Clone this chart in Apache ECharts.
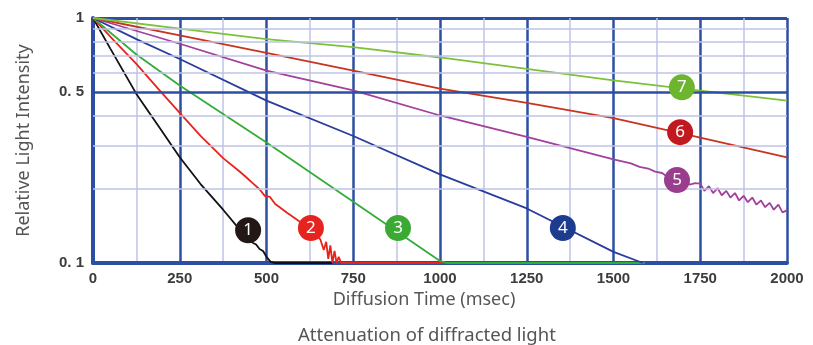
<!DOCTYPE html>
<html>
<head>
<meta charset="utf-8">
<script src="https://cdn.jsdelivr.net/npm/echarts@6/dist/echarts.min.js"></script>
<style>
    html, body { margin: 0; padding: 0; background: #fff; }
    #chartDiv { width: 813px; height: 345px; }
</style>
</head>
<body>
<div id="chartDiv"></div>
<script>
// data, time in msec, relative intensity
let t1 = [0, 50, 125, 190, 250, 310, 375, 430, 460, 470, 480, 490, 500, 512, 525, 690];
let v1 = [1, 0.75, 0.49, 0.36, 0.27, 0.21, 0.165, 0.133, 0.121, 0.119, 0.114, 0.112, 0.106, 0.101, 0.1, 0.1];

let t2 = [0, 60, 125, 190, 250, 310, 375, 420, 440, 460, 480, 495, 510, 525, 540, 560, 580, 600, 620, 640, 655, 665, 672, 678, 684, 690, 696, 702, 708, 715, 1023];
let v2 = [1, 0.81, 0.65, 0.51, 0.41, 0.33, 0.268, 0.238, 0.225, 0.212, 0.2, 0.188, 0.186, 0.174, 0.168, 0.16, 0.153, 0.146, 0.14, 0.13, 0.125, 0.113, 0.122, 0.104, 0.118, 0.1, 0.112, 0.1, 0.106, 0.1, 0.1];

let t3 = [0, 125, 250, 500, 750, 1000, 1020, 1590];
let v3 = [1, 0.71, 0.53, 0.31, 0.178, 0.102, 0.1, 0.1];

let t4 = [0, 125, 250, 500, 750, 1000, 1250, 1500, 1585];
let v4 = [1, 0.82, 0.68, 0.46, 0.33, 0.23, 0.167, 0.111, 0.1];

let t5 = [0, 250, 500, 750, 1000, 1250, 1500, 1550, 1575, 1600, 1620, 1640, 1660, 1700, 1720, 1735,
    1750, 1762, 1775, 1787, 1800, 1812, 1825, 1837, 1850, 1862, 1875, 1887, 1900, 1912, 1925, 1937, 1950, 1962, 1975, 1987, 2000];
let v5 = [1, 0.785, 0.61, 0.507, 0.40, 0.327, 0.265, 0.255, 0.247, 0.243, 0.236, 0.233, 0.222, 0.218, 0.209, 0.212,
    0.211, 0.197, 0.206, 0.193, 0.202, 0.189, 0.197, 0.185, 0.193, 0.180, 0.188, 0.177, 0.185, 0.173, 0.180, 0.169, 0.176, 0.165, 0.173, 0.161, 0.164];

let t6 = [0, 250, 500, 750, 1000, 1250, 1500, 1750, 2000];
let v6 = [1, 0.85, 0.72, 0.61, 0.515, 0.45, 0.39, 0.325, 0.27];

let t7 = [0, 250, 500, 750, 1000, 1250, 1500, 1750, 2000];
let v7 = [1, 0.905, 0.82, 0.76, 0.69, 0.62, 0.556, 0.505, 0.46];

let lineColors = ["#111111", "#e8231c", "#32ad3a", "#2a3c9c", "#a2409c", "#c8341f", "#7cc23a"];

// numbered badges
let badgeText = ["1", "2", "3", "4", "5", "6", "7"];
let badgeX = [447, 628, 879, 1354, 1683, 1692, 1697];
let badgeY = [0.136, 0.139, 0.139, 0.139, 0.218, 0.342, 0.521];
let badgeColors = ["#231815", "#e52420", "#3aaa35", "#1d3c8f", "#993d8c", "#c1191f", "#6db52f"];

let minorLevels = [0.2, 0.3, 0.4, 0.6, 0.7, 0.8, 0.9];
let majorLevel = 0.5;

let chart = echarts.init(document.getElementById("chartDiv"));

let majorBlue = "#2c4fa3";
let minorBlue = "#bfc3e6";
let tickFont = {
    color: "#3c3c3c",
    fontSize: 15,
    fontWeight: "bold",
    fontFamily: "Liberation Sans",
};
let nameFont = {
    color: "#555",
    fontSize: 18,
    fontWeight: "normal",
    fontFamily: "Noto Sans",
};

let times = [t1, t2, t3, t4, t5, t6, t7];
let values = [v1, v2, v3, v4, v5, v6, v7];

let series = [];

// light horizontal grid + 0.5 line
series.push({
    type: "line",
    z: -1,
    silent: true,
    data: [[0, 1]],
    showSymbol: false,
    lineStyle: { width: 0 },
    markLine: {
        silent: true,
        symbol: "none",
        animation: false,
        data: minorLevels.map((v) => ({
            yAxis: v,
            lineStyle: { color: minorBlue, width: 1.5, type: "solid" },
            label: { show: false },
        })).concat([{
            yAxis: majorLevel,
            lineStyle: { color: majorBlue, width: 2.5, type: "solid" },
            label: Object.assign({
                show: true,
                position: "start",
                distance: 9,
                formatter: "0. 5",
            }, tickFont),
        }]),
    },
});

for (let i = 0; i < times.length; i++) {
    series.push({
        type: "line",
        z: 3,
        showSymbol: false,
        silent: true,
        data: times[i].map((t, j) => [t, values[i][j]]),
        lineStyle: { color: lineColors[i], width: 1.8 },
    });
}

series.push({
    type: "scatter",
    z: 10,
    symbolSize: 26,
    silent: true,
    data: badgeText.map((s, i) => ({
        value: [badgeX[i], badgeY[i]],
        name: s,
        itemStyle: { color: badgeColors[i], opacity: 1 },
    })),
    label: {
        show: true,
        position: "inside",
        formatter: (p) => p.name,
        color: "#fff",
        fontSize: 17,
        fontFamily: "Noto Sans",
    },
});

let options = {
    animation: false,
    title: {
        text: "Attenuation of diffracted light",
        left: 293,
        top: 321,
        textStyle: Object.assign({}, nameFont, { fontSize: 18.5 }),
    },
    grid: {
        left: 93,
        right: 26,
        top: 18,
        bottom: 82,
    },
    xAxis: {
        type: "value",
        min: 0,
        max: 2000,
        interval: 250,
        name: "Diffusion Time (msec)",
        nameLocation: "middle",
        nameGap: 27,
        nameTextStyle: Object.assign({ padding: [0, 32, 0, 0] }, nameFont),
        axisLine: { lineStyle: { color: majorBlue, width: 4 } },
        axisTick: { show: false },
        axisLabel: Object.assign({ margin: 8, formatter: (v) => String(v) }, tickFont),
        splitLine: { show: true, lineStyle: { color: majorBlue, width: 2.5 } },
        minorTick: { show: false, splitNumber: 2 },
        minorSplitLine: { show: true, lineStyle: { color: minorBlue, width: 1.5 } },
    },
    yAxis: {
        type: "log",
        logBase: 10,
        min: 0.1,
        max: 1,
        name: "Relative Light Intensity",
        nameLocation: "middle",
        nameGap: 60,
        nameTextStyle: nameFont,
        axisLine: { show: true, lineStyle: { color: majorBlue, width: 4 } },
        axisTick: { show: false },
        axisLabel: Object.assign({
            margin: 9,
            formatter: (v) => (v > 0.5 ? "1" : "0. 1"),
        }, tickFont),
        splitLine: { show: true, lineStyle: { color: majorBlue, width: 3 } },
    },
    series: series,
};

chart.setOption(options);
</script>
</body>
</html>
